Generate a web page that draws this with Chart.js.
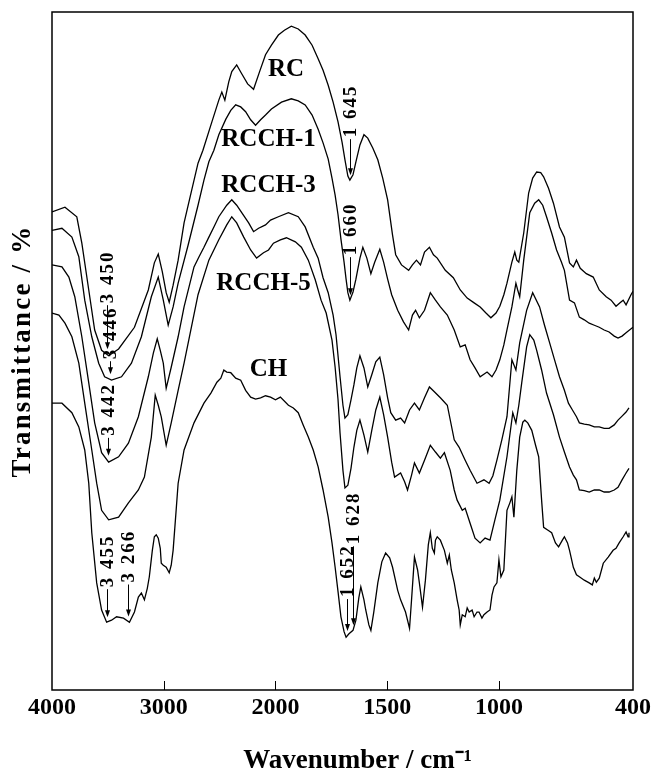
<!DOCTYPE html>
<html>
<head>
<meta charset="utf-8">
<title>FTIR spectra RC / RCCH / CH</title>
<script src="https://cdn.jsdelivr.net/npm/chart.js@4.4.1/dist/chart.umd.min.js"></script>
<style>
  html, body { margin: 0; padding: 0; background: #fff; }
  canvas { display: block; }
</style>
</head>
<body>
<canvas id="ftirChart" width="651" height="775"></canvas>
<script>
// x tick labels (cm-1); the axis changes scale at 2000 cm-1
const xTickValues = [4000, 3000, 2000, 1500, 1000, 400];

const seriesNames = ['RC', 'RCCH-1', 'RCCH-3', 'RCCH-5', 'CH'];

// [wavenumber cm-1, transmittance (offset, arbitrary units)]
const spectrumRC = [
  [4000,70.5],[3884,71.2],[3778,69.8],[3733,65.9],[3671,59.0],[3618,53.1],[3556,50.1],[3493,49.3],[3404,50.3],
  [3262,53.5],[3138,59.0],[3084,63.0],[3049,64.3],[3013,61.7],[2978,58.6],[2951,57.2],[2916,59.7],[2871,63.4],
  [2818,68.9],[2756,73.3],[2693,77.7],[2649,79.6],[2569,83.8],[2507,87.0],[2480,88.2],[2453,87.0],[2418,89.7],
  [2391,91.2],[2347,92.2],[2302,90.9],[2249,89.4],[2196,88.6],[2142,91.2],[2089,93.7],[2036,95.1],[1987,96.6],
  [1960,97.3],[1929,97.9],[1898,97.5],[1867,96.6],[1836,95.1],[1809,93.1],[1787,91.4],[1764,89.2],[1742,86.7],
  [1720,83.8],[1702,80.8],[1689,78.2],[1676,75.8],[1667,75.2],[1653,76.0],[1640,77.9],[1622,80.4],[1604,81.9],
  [1587,81.4],[1564,79.9],[1542,78.2],[1520,75.5],[1498,72.3],[1476,67.1],[1462,64.2],[1436,62.7],[1404,61.9],
  [1387,62.7],[1369,63.4],[1351,62.7],[1333,64.6],[1311,65.3],[1293,64.2],[1276,63.7],[1240,61.9],[1204,60.8],
  [1173,59.0],[1142,57.8],[1111,57.1],[1084,56.5],[1058,55.6],[1036,54.9],[1013,55.6],[996,56.6],[978,58.3],
  [964,60.0],[942,63.1],[929,64.6],[920,63.4],[911,63.1],[889,67.4],[867,73.3],[849,75.5],[831,76.4],[813,76.3],
  [800,75.7],[778,74.0],[756,71.8],[729,68.3],[707,66.8],[684,63.0],[667,62.4],[653,63.4],[636,62.2],[609,61.4],
  [578,60.9],[551,59.0],[520,58.0],[498,57.5],[476,56.6],[458,57.1],[444,57.5],[431,56.8],[409,58.3],[400,58.8]
];

const spectrumRCCH1 = [
  [4000,67.8],[3911,68.1],[3822,66.8],[3760,63.9],[3707,57.5],[3644,52.1],[3582,48.2],[3529,46.2],[3467,45.7],
  [3378,46.2],[3289,48.2],[3200,52.1],[3111,58.0],[3049,60.9],[3004,57.5],[2960,53.8],[2916,56.5],[2871,60.0],
  [2782,65.6],[2693,71.5],[2640,75.2],[2596,77.9],[2551,79.6],[2507,81.9],[2444,84.2],[2400,85.5],[2356,86.3],
  [2311,86.0],[2267,85.3],[2222,84.1],[2178,83.3],[2133,84.1],[2089,84.8],[2036,85.7],[1973,86.7],[1929,87.2],
  [1898,86.9],[1867,86.3],[1836,84.8],[1809,82.7],[1787,80.7],[1764,78.3],[1747,75.5],[1733,73.0],[1720,70.1],
  [1707,66.5],[1693,63.1],[1684,60.6],[1676,58.6],[1667,57.5],[1653,58.7],[1640,60.6],[1622,63.7],[1609,65.3],
  [1591,63.7],[1573,61.4],[1556,63.1],[1533,65.0],[1516,63.1],[1498,60.6],[1480,58.3],[1453,56.0],[1427,54.3],
  [1404,53.1],[1387,55.3],[1373,56.0],[1356,54.9],[1333,56.0],[1307,58.6],[1284,57.5],[1262,56.5],[1231,55.3],
  [1200,53.1],[1173,50.6],[1151,50.9],[1129,48.7],[1107,47.5],[1084,46.2],[1053,46.9],[1031,46.2],[1013,47.2],
  [996,48.7],[978,50.9],[964,53.1],[942,56.5],[924,60.0],[916,59.0],[907,58.0],[889,63.4],[862,70.4],[840,71.8],
  [822,72.3],[804,71.5],[787,69.8],[764,67.4],[742,64.9],[720,63.1],[707,61.9],[684,57.5],[662,57.1],[640,55.0],
  [618,54.6],[596,54.1],[573,53.8],[551,53.5],[529,53.1],[507,52.8],[484,52.2],[467,51.9],[449,52.2],[431,52.7],
  [400,53.5]
];

const spectrumRCCH3 = [
  [4000,62.7],[3911,62.4],[3849,60.9],[3796,58.0],[3733,52.1],[3671,45.3],[3618,39.4],[3556,35.0],[3493,33.6],
  [3404,34.4],[3316,36.4],[3227,40.3],[3138,46.2],[3093,49.7],[3058,51.8],[3031,50.1],[3004,48.2],[2978,44.5],
  [2933,47.6],[2871,52.1],[2818,56.5],[2729,62.4],[2684,63.9],[2640,65.3],[2596,66.8],[2551,68.3],[2507,69.8],
  [2436,71.5],[2391,72.3],[2347,71.5],[2302,70.4],[2240,68.9],[2196,67.6],[2151,68.1],[2089,68.6],[2044,69.3],
  [1987,69.8],[1942,70.4],[1898,69.8],[1867,68.3],[1831,65.3],[1809,63.7],[1787,60.8],[1764,58.6],[1742,55.3],
  [1729,52.4],[1711,46.2],[1698,42.0],[1689,40.1],[1676,40.6],[1662,42.8],[1649,45.0],[1636,47.5],[1622,49.3],
  [1604,47.5],[1587,44.7],[1569,46.5],[1551,48.4],[1533,49.1],[1516,46.5],[1498,43.1],[1484,40.9],[1462,39.8],
  [1440,40.1],[1422,39.4],[1400,41.3],[1378,42.3],[1356,41.3],[1333,43.1],[1311,44.7],[1289,44.0],[1262,43.1],
  [1231,42.0],[1200,36.9],[1178,35.8],[1151,33.9],[1129,32.4],[1098,30.5],[1067,31.0],[1044,30.5],[1027,31.6],
  [1009,33.9],[987,36.9],[964,40.3],[942,48.7],[924,47.2],[907,51.2],[876,56.0],[849,58.6],[818,56.5],[796,53.8],
  [773,51.2],[751,48.7],[729,46.2],[707,44.2],[689,42.3],[671,41.3],[653,40.3],[640,39.4],[618,39.2],[596,39.1],
  [573,38.8],[551,38.8],[529,38.6],[507,38.6],[484,39.1],[467,39.8],[449,40.4],[431,41.0],[418,41.6]
];

const spectrumRCCH5 = [
  [4000,55.6],[3938,55.3],[3884,54.1],[3822,52.1],[3760,48.2],[3707,42.3],[3644,35.4],[3600,30.5],[3556,26.5],
  [3493,25.1],[3404,25.5],[3316,27.6],[3227,29.5],[3173,31.4],[3111,37.3],[3076,43.5],[3049,42.0],[3022,40.3],
  [2978,36.1],[2933,39.4],[2871,44.2],[2818,48.2],[2693,58.3],[2596,63.4],[2507,66.4],[2436,68.6],[2391,69.8],
  [2347,68.9],[2284,66.8],[2222,64.9],[2169,63.7],[2107,64.5],[2062,64.9],[2018,65.9],[1978,66.4],[1951,66.7],
  [1911,66.1],[1884,65.3],[1853,63.4],[1822,60.5],[1796,57.5],[1773,55.6],[1747,51.6],[1733,47.6],[1720,42.8],
  [1711,37.9],[1698,32.4],[1689,29.8],[1676,30.2],[1662,32.7],[1649,35.8],[1636,38.3],[1622,39.8],[1604,37.6],
  [1587,35.1],[1569,38.3],[1551,41.3],[1533,43.2],[1516,40.6],[1498,37.3],[1480,33.6],[1467,31.4],[1440,32.0],
  [1422,30.7],[1409,29.5],[1391,31.7],[1378,33.5],[1356,32.0],[1333,33.9],[1307,36.1],[1284,35.1],[1262,34.2],
  [1244,35.0],[1218,32.4],[1200,29.5],[1187,28.0],[1164,26.5],[1151,26.8],[1129,24.6],[1107,22.4],[1084,21.7],
  [1062,22.4],[1040,22.1],[1018,25.1],[996,28.0],[964,34.4],[938,40.9],[924,39.4],[911,42.0],[898,45.3],
  [876,50.6],[862,52.4],[844,51.6],[831,50.1],[809,47.2],[787,43.8],[756,40.6],[729,37.3],[707,35.1],[684,32.9],
  [667,31.7],[653,31.0],[640,29.5],[618,29.4],[596,29.2],[573,29.5],[551,29.5],[529,29.2],[507,29.2],[484,29.5],
  [467,29.9],[449,31.0],[431,32.0],[418,32.7]
];

const spectrumCH = [
  [4000,42.3],[3911,42.3],[3822,40.9],[3760,38.8],[3707,35.4],[3671,30.5],[3644,23.2],[3600,15.8],[3556,11.8],
  [3511,10.0],[3467,10.3],[3422,10.8],[3360,10.6],[3307,10.0],[3262,11.5],[3227,13.7],[3200,14.3],[3173,13.3],
  [3147,15.0],[3129,16.7],[3102,20.6],[3084,22.6],[3067,22.9],[3049,22.4],[3031,20.9],[3022,18.7],[3004,18.4],
  [2978,18.1],[2951,17.3],[2933,18.4],[2916,20.6],[2889,26.5],[2871,30.5],[2818,35.4],[2729,39.4],[2640,42.3],
  [2578,43.8],[2524,45.4],[2489,46.0],[2462,47.2],[2436,46.9],[2400,46.8],[2356,46.0],[2311,45.7],[2267,44.2],
  [2222,43.2],[2178,42.9],[2133,43.1],[2089,43.4],[2044,43.2],[2000,42.8],[1978,43.2],[1942,42.0],[1920,41.6],
  [1898,40.9],[1876,39.1],[1853,37.3],[1831,35.4],[1809,32.9],[1787,29.5],[1764,25.5],[1747,21.7],[1733,18.1],
  [1720,14.5],[1707,10.8],[1693,8.6],[1684,7.8],[1671,8.3],[1653,8.8],[1640,10.3],[1627,13.6],[1618,15.2],
  [1604,13.3],[1596,11.8],[1582,9.6],[1573,8.8],[1560,11.5],[1542,15.8],[1524,18.9],[1507,20.2],[1489,19.5],
  [1476,18.1],[1453,14.7],[1440,13.3],[1418,11.5],[1400,9.1],[1391,13.3],[1378,19.6],[1364,17.7],[1356,15.8],
  [1342,12.2],[1329,16.2],[1316,21.4],[1307,23.2],[1298,20.9],[1289,20.2],[1284,22.1],[1276,22.6],[1262,22.1],
  [1244,20.6],[1231,18.7],[1222,19.9],[1213,17.7],[1200,15.8],[1187,13.3],[1178,11.8],[1173,9.6],[1164,11.1],
  [1151,10.8],[1142,12.1],[1133,11.5],[1120,11.8],[1111,10.8],[1098,11.5],[1089,11.5],[1076,10.6],[1067,11.1],
  [1053,11.5],[1040,11.8],[1031,14.0],[1022,15.2],[1009,15.8],[1000,19.2],[991,16.7],[978,17.7],[964,26.5],
  [951,27.6],[942,28.5],[933,25.5],[920,32.4],[907,37.3],[893,39.5],[884,39.8],[871,39.4],[853,38.3],[836,36.1],
  [822,34.4],[809,28.0],[800,24.0],[782,23.6],[764,23.2],[747,21.7],[733,21.1],[716,22.1],[707,22.6],[693,21.7],
  [684,20.6],[667,18.1],[653,17.0],[640,16.7],[618,16.2],[596,15.8],[582,15.5],[573,16.5],[564,15.9],[551,16.5],
  [533,18.7],[511,19.6],[489,20.6],[476,20.9],[462,21.7],[444,22.6],[431,23.3],[422,22.6],[418,23.2]
];

const spectra = [spectrumRC, spectrumRCCH1, spectrumRCCH3, spectrumRCCH5, spectrumCH];

// where each curve name sits, in [wavenumber, transmittance]
const nameAnchors = [[1953, 91.5], [2062, 81.2], [2062, 74.4], [2107, 60.0], [2062, 47.2]];

// band marks: text, curve index, wavenumber where the arrow is drawn
const bandLabels = ['3 450', '3 446', '3 442', '3 455', '3 266', '1 645', '1 660', '1 652', '1 628'];
const bandSeries = [0, 1, 2, 4, 4, 0, 1, 4, 4];
const bandWaves = [3511, 3484, 3502, 3511, 3316, 1667, 1667, 1680, 1653];
const arrowLengths = [44, 13, 18, 28, 32, 36, 38, 32, 79];

const SERIF = "'Liberation Serif', 'Times New Roman', serif";

// 4000-2000 at one scale, 2000-400 stretched x2
const BREAK = 2000;
const AXIS_SPAN = (4000 - BREAK) + 2 * (BREAK - 400);
function waveToAxis(w) {
  return w >= BREAK ? 4000 - w : (4000 - BREAK) + 2 * (BREAK - w);
}
function axisToWave(a) {
  return a <= 4000 - BREAK ? 4000 - a : BREAK - (a - (4000 - BREAK)) / 2;
}

const LinearScale = Chart.LinearScale || Chart.registry.getScale('linear');
class WavenumberScale extends LinearScale {
  getPixelForValue(value) {
    return this.getPixelForDecimal(waveToAxis(value) / AXIS_SPAN);
  }
  getValueForPixel(pixel) {
    return axisToWave(this.getDecimalForPixel(pixel) * AXIS_SPAN);
  }
}
WavenumberScale.id = 'wavenumber';
WavenumberScale.defaults = {};
Chart.register(WavenumberScale);

function valueAt(points, w) {
  for (let i = 1; i < points.length; i++) {
    const [w0, v0] = points[i - 1];
    const [w1, v1] = points[i];
    if (w <= w0 && w >= w1) return v0 + (v1 - v0) * (w0 - w) / (w0 - w1);
  }
  return points[points.length - 1][1];
}

// shift / letter-space an axis title (chart.js has no option for it)
function restyleTitle(scale, dx, spacing) {
  if (scale.$restyled) return;
  scale.$restyled = true;
  const drawTitle = scale.drawTitle;
  scale.drawTitle = function () {
    const ctx = this.ctx;
    ctx.save();
    ctx.translate(dx, 0);
    ctx.letterSpacing = spacing;
    drawTitle.call(this);
    ctx.restore();
  };
}

const decorations = {
  id: 'decorations',
  afterDraw(chart) {
    const { ctx, chartArea: a } = chart;
    const x = chart.scales.x;
    const y = chart.scales.y;
    ctx.save();
    ctx.strokeStyle = '#000';
    ctx.fillStyle = '#000';

    // frame
    ctx.lineWidth = 1.5;
    ctx.strokeRect(a.left, a.top, a.right - a.left, a.bottom - a.top);

    // inward tick marks
    ctx.lineWidth = 1;
    xTickValues.slice(1, -1).forEach(v => {
      const px = Math.round(x.getPixelForValue(v)) + 0.5;
      ctx.beginPath();
      ctx.moveTo(px, a.bottom);
      ctx.lineTo(px, a.bottom - 9);
      ctx.stroke();
    });

    // curve names
    ctx.font = 'bold 25px ' + SERIF;
    ctx.textAlign = 'center';
    ctx.textBaseline = 'middle';
    seriesNames.forEach((name, i) => {
      ctx.fillText(name, x.getPixelForValue(nameAnchors[i][0]), y.getPixelForValue(nameAnchors[i][1]));
    });

    // band arrows with rotated wavenumbers
    ctx.font = 'bold 19px ' + SERIF;
    ctx.letterSpacing = '2px';
    ctx.textAlign = 'left';
    bandLabels.forEach((text, i) => {
      const px = Math.round(x.getPixelForValue(bandWaves[i])) + 0.5;
      const tip = y.getPixelForValue(valueAt(spectra[bandSeries[i]], bandWaves[i])) - 5;
      const tail = tip - arrowLengths[i];
      ctx.beginPath();
      ctx.moveTo(px, tail);
      ctx.lineTo(px, tip - 5);
      ctx.stroke();
      ctx.beginPath();
      ctx.moveTo(px, tip);
      ctx.lineTo(px - 2.5, tip - 7);
      ctx.lineTo(px + 2.5, tip - 7);
      ctx.closePath();
      ctx.fill();
      ctx.save();
      ctx.translate(px, tail - 2);
      ctx.rotate(-Math.PI / 2);
      ctx.fillText(text, 0, 1);
      ctx.restore();
    });
    ctx.restore();
  }
};

const ctx = document.getElementById('ftirChart').getContext('2d');

new Chart(ctx, {
  type: 'line',
  data: {
    datasets: seriesNames.map((name, i) => ({
      label: name,
      data: spectra[i].map(([w, t]) => ({ x: w, y: t })),
      borderColor: '#000',
      borderWidth: 1.3,
      pointRadius: 0,
      tension: 0,
      fill: false
    }))
  },
  options: {
    responsive: false,
    animation: false,
    devicePixelRatio: 1,
    layout: { padding: { top: 12, right: 0, bottom: 0, left: 0 } },
    plugins: {
      legend: { display: false },
      tooltip: { enabled: false }
    },
    scales: {
      x: {
        type: 'wavenumber',
        min: 400,
        max: 4000,
        afterBuildTicks: (scale) => {
          scale.ticks = xTickValues.map(value => ({ value }));
        },
        ticks: {
          autoSkip: false,
          maxRotation: 0,
          padding: 3,
          color: '#000',
          font: { family: SERIF, size: 24, weight: 'bold' },
          callback: (value) => String(value)
        },
        grid: { display: false, drawTicks: false },
        border: { display: false },
        title: {
          display: true,
          text: 'Wavenumber / cm\u207B\u00B9',
          color: '#000',
          font: { family: SERIF, size: 27, weight: 'bold', lineHeight: 1 },
          padding: { top: 0, bottom: 0 }
        },
        afterFit: (scale) => {
          scale.height = 85;
          scale.paddingLeft = 0;
          scale.paddingRight = 18;
          restyleTitle(scale, 15, '0px');
        }
      },
      y: {
        min: 0,
        max: 100,
        ticks: { display: false },
        grid: { display: false, drawTicks: false },
        border: { display: false },
        title: {
          display: true,
          text: 'Transmittance / %',
          color: '#000',
          font: { family: SERIF, size: 27, weight: 'bold', lineHeight: 1 },
          padding: { top: 10, bottom: 0 }
        },
        afterFit: (scale) => {
          scale.width = 52;
          restyleTitle(scale, 0, '2.2px');
        }
      }
    }
  },
  plugins: [decorations]
});
</script>
</body>
</html>
